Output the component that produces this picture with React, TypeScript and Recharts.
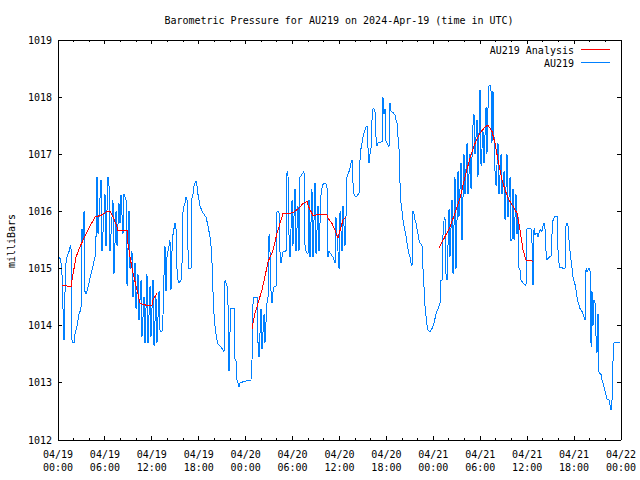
import React from 'react';
import { LineChart, Line, XAxis, YAxis } from 'recharts';

// hours since 2024-04-19 00:00 UTC
const hourTicks = [0, 2, 4, 6, 8, 10, 12, 14, 16, 18, 20, 22, 24, 26, 28, 30, 32, 34, 36, 38, 40, 42, 44, 46, 48, 50, 52, 54, 56, 58, 60, 62, 64, 66, 68, 70, 72];
const dateLabels = ['04/19', '04/19', '04/19', '04/19', '04/20', '04/20', '04/20', '04/20', '04/21', '04/21', '04/21', '04/21', '04/22'];
const timeLabels = ['00:00', '06:00', '12:00', '18:00', '00:00', '06:00', '12:00', '18:00', '00:00', '06:00', '12:00', '18:00', '00:00'];
const pressureTicks = [1012, 1013, 1014, 1015, 1016, 1017, 1018, 1019];

// AU219 observations [hour, mbar]
const obsApr19: [number, number][] = [
  [0, 1015.2], [0.26, 1015.18], [0.38, 1015.1], [0.51, 1014.9], [0.64, 1014.3], [0.77, 1013.75], [0.9, 1014.6], [1.02, 1015.1], [1.15, 1015.2], [1.28, 1015.25], [1.41, 1015.3], [1.53, 1015.38], [1.66, 1015.4], [1.79, 1013.75], [1.92, 1013.7], [2.05, 1013.7], [2.17, 1013.85], [2.43, 1014.0], [2.69, 1014.2], [2.94, 1014.3], [3.07, 1015.7], [3.2, 1015.5], [3.33, 1016.0], [3.45, 1014.6], [3.58, 1014.55], [3.71, 1014.6], [3.96, 1014.75], [4.22, 1014.9], [4.48, 1015.05],
  [4.73, 1015.2], [4.86, 1015.56], [4.99, 1016.61], [5.12, 1015.6], [5.5, 1016.55], [5.63, 1015.3], [6.01, 1016.3], [6.14, 1015.4], [6.39, 1016.61], [6.52, 1016.5], [6.65, 1015.3], [7.03, 1016.2], [7.16, 1014.9], [7.42, 1016.0], [7.55, 1015.4], [7.8, 1016.14], [7.93, 1015.8], [8.06, 1016.29], [8.31, 1015.6], [8.44, 1016.3], [8.7, 1016.2], [8.83, 1014.7], [9.08, 1016.0], [9.21, 1015.0], [9.46, 1015.3], [9.59, 1014.5], [9.85, 1015.1], [9.98, 1014.3], [10.23, 1014.9], [10.36, 1014.1], [10.62, 1014.8], [10.74, 1013.8], [11.0, 1014.5], [11.13, 1013.7], [11.38, 1014.9], [11.51, 1013.7], [11.77, 1014.7], [11.89, 1013.8], [12.15, 1014.8], [12.28, 1013.65], [12.53, 1014.5], [12.66, 1013.7], [12.92, 1014.6], [13.05, 1013.9],
  [13.3, 1013.9], [13.43, 1014.2], [13.56, 1014.9], [13.68, 1015.4], [13.81, 1014.6], [13.94, 1015.2], [14.07, 1015.3], [14.32, 1015.5], [14.45, 1014.63], [14.58, 1015.3], [14.71, 1015.6], [14.96, 1015.8], [15.09, 1015.7], [15.22, 1015.0], [15.35, 1014.8], [15.47, 1014.75], [15.73, 1014.8], [15.86, 1015.1], [15.99, 1016.0], [16.11, 1016.1], [16.24, 1016.15], [16.37, 1016.25], [16.5, 1016.2], [16.63, 1015.3], [16.75, 1015.0], [17.01, 1015.0], [17.14, 1016.25], [17.27, 1016.3], [17.39, 1016.45], [17.52, 1016.5], [17.65, 1016.53], [17.78, 1016.45], [17.9, 1016.3], [18.03, 1016.2], [18.16, 1016.1], [18.42, 1016.0], [18.67, 1015.95], [18.93, 1015.9], [19.18, 1015.75], [19.44, 1015.55], [19.57, 1015.4], [19.7, 1015.1], [19.82, 1014.6], [19.95, 1014.2], [20.08, 1014.0], [20.21, 1013.85], [20.33, 1013.75], [20.46, 1013.68], [20.72, 1013.65], [20.97, 1013.6], [21.23, 1013.55], [21.36, 1014.8], [21.49, 1014.75], [21.61, 1014.7], [21.74, 1014.4], [21.87, 1013.2], [22.0, 1013.9], [22.12, 1014.3], [22.51, 1014.3], [22.64, 1013.4], [22.76, 1013.4], [22.89, 1013.05], [23.02, 1013.0], [23.15, 1012.93], [23.28, 1013.0], [23.92, 1013.03],
];
const obsApr20: [number, number][] = [
  [24.68, 1013.05], [24.81, 1013.4], [24.94, 1014.4], [25.07, 1014.5], [25.45, 1014.5], [25.58, 1013.7], [25.71, 1013.45], [25.96, 1014.3], [26.09, 1013.6], [26.35, 1014.2], [26.47, 1013.7], [26.73, 1014.4], [26.86, 1014.5], [26.99, 1015.6], [27.11, 1015.3], [27.24, 1014.6], [27.37, 1014.39], [27.5, 1014.6], [27.63, 1014.68], [27.88, 1014.68], [28.01, 1016.0], [28.26, 1016.0], [28.39, 1015.3], [28.52, 1015.1], [28.65, 1015.2], [28.78, 1015.3], [29.16, 1015.3], [29.29, 1016.7], [29.41, 1016.65], [29.54, 1015.6], [29.67, 1015.2], [29.93, 1016.2], [30.05, 1015.4], [30.31, 1016.4], [30.44, 1015.3], [30.69, 1016.1], [30.82, 1015.3], [30.95, 1016.6], [31.21, 1016.65], [31.46, 1016.7], [31.59, 1015.4], [31.72, 1015.3], [31.97, 1015.25], [32.1, 1016.2], [32.23, 1015.2], [32.48, 1016.4], [32.61, 1015.2], [32.87, 1016.5], [33.0, 1015.25], [33.25, 1016.1], [33.38, 1015.3], [33.64, 1016.3], [33.76, 1016.4], [33.89, 1016.47], [34.15, 1016.5], [34.4, 1016.45], [34.53, 1015.2], [34.66, 1015.3], [34.91, 1015.25], [35.17, 1015.2], [35.43, 1015.1], [35.55, 1015.9], [35.68, 1015.6], [35.94, 1015.0], [36.07, 1016.0], [36.32, 1015.3], [36.45, 1016.1], [36.7, 1015.4], [36.83, 1015.9],
  [36.96, 1016.6], [37.09, 1016.65], [37.22, 1016.7], [37.34, 1016.75], [37.47, 1016.85], [37.6, 1016.9], [37.73, 1016.5], [37.86, 1016.3], [38.11, 1016.25], [38.37, 1016.3], [38.49, 1016.3], [38.62, 1016.9], [38.75, 1017.1], [38.88, 1017.2], [39.01, 1017.3], [39.13, 1017.37], [39.26, 1017.43], [39.39, 1017.48], [39.52, 1017.5], [39.65, 1017.1], [39.77, 1016.85], [39.9, 1017.0], [40.03, 1017.1], [40.16, 1017.6], [40.29, 1017.8], [40.41, 1017.8], [40.54, 1017.75], [40.67, 1017.3], [40.8, 1017.15], [40.92, 1017.2], [41.44, 1017.22], [41.56, 1018.0], [41.69, 1017.7], [41.82, 1017.8], [41.95, 1017.22], [42.08, 1017.2], [42.33, 1017.13], [42.46, 1017.9], [42.59, 1017.75], [42.84, 1017.73], [43.1, 1017.69], [43.23, 1017.6], [43.35, 1017.55], [43.48, 1017.3], [43.61, 1017.1], [43.74, 1016.5], [43.87, 1016.14], [44.0, 1016.0], [44.12, 1015.85], [44.25, 1015.75], [44.38, 1015.65], [44.51, 1015.56], [44.63, 1015.45], [44.76, 1015.35], [44.89, 1015.25], [45.02, 1015.2], [45.15, 1015.1], [45.27, 1015.05], [45.4, 1016.0], [45.53, 1015.95], [45.66, 1015.85], [45.79, 1015.8], [45.91, 1015.7], [46.04, 1015.6], [46.17, 1015.5], [46.3, 1015.45], [46.55, 1015.4], [46.68, 1015.0], [46.94, 1014.33], [47.19, 1014.01], [47.32, 1013.92], [47.58, 1013.9], [47.83, 1013.95],
];
const obsApr21: [number, number][] = [
  [48.09, 1014.05], [48.34, 1014.2], [48.6, 1014.3], [48.86, 1014.4], [48.98, 1014.8], [49.11, 1014.8], [49.24, 1015.6], [49.37, 1015.85], [49.49, 1015.9], [49.62, 1014.9], [49.75, 1014.8], [50.01, 1016.05], [50.13, 1015.2], [50.39, 1016.2], [50.52, 1014.9], [50.77, 1016.6], [50.9, 1015.0], [51.16, 1016.7], [51.28, 1015.9], [51.54, 1016.85], [51.67, 1015.5], [51.92, 1017.0], [52.05, 1016.3], [52.31, 1017.2], [52.43, 1016.3], [52.69, 1017.0], [52.82, 1016.4], [53.07, 1017.5], [53.2, 1017.7], [53.33, 1017.0], [53.59, 1017.6], [53.71, 1016.6], [53.97, 1018.12], [54.1, 1016.8], [54.35, 1017.4], [54.48, 1016.85], [54.74, 1017.83], [54.86, 1017.0], [54.99, 1017.8], [55.12, 1018.2], [55.25, 1018.21], [55.38, 1018.1], [55.5, 1017.2], [55.63, 1018.1], [55.76, 1017.3], [55.89, 1016.7], [56.02, 1016.45], [56.27, 1017.2], [56.4, 1016.3], [56.66, 1017.0], [56.78, 1016.3], [57.04, 1016.7], [57.17, 1015.85], [57.42, 1017.0], [57.55, 1015.9], [57.81, 1016.6], [57.93, 1015.5], [58.06, 1015.5], [58.19, 1016.4], [58.32, 1015.5], [58.57, 1016.3], [58.7, 1015.6], [58.83, 1015.9], [58.96, 1015.0], [59.09, 1014.97], [59.21, 1014.8], [59.47, 1014.75], [59.73, 1014.71], [59.85, 1014.7], [59.98, 1015.7], [60.24, 1015.7], [60.49, 1015.7], [60.62, 1015.45], [60.75, 1014.71], [60.88, 1015.7], [61.0, 1015.6],
  [61.26, 1015.62], [61.39, 1015.55], [61.64, 1015.68], [61.9, 1015.65], [62.03, 1015.75], [62.16, 1015.79], [62.28, 1015.7], [62.41, 1015.3], [62.54, 1015.15], [62.79, 1015.2], [63.05, 1015.21], [63.18, 1015.62], [63.31, 1015.85], [63.56, 1015.91], [63.82, 1015.91], [63.95, 1015.3], [64.07, 1015.1], [64.2, 1015.02], [64.84, 1015.0], [64.97, 1015.75], [65.1, 1015.8], [65.22, 1015.75], [65.35, 1015.5], [65.48, 1015.3], [65.61, 1015.15], [65.74, 1015.0], [65.86, 1014.86], [65.99, 1014.78], [66.12, 1014.72], [66.25, 1014.63], [66.38, 1014.5], [66.5, 1014.42], [66.63, 1014.36], [66.76, 1014.3], [67.01, 1014.25], [67.27, 1014.15], [67.4, 1014.1], [67.53, 1015.0], [67.65, 1014.95], [67.91, 1015.0], [68.04, 1014.95], [68.17, 1013.63], [68.29, 1014.6], [68.42, 1014.0], [68.55, 1014.45], [68.68, 1014.4], [68.81, 1013.8], [68.93, 1013.52], [69.06, 1014.2], [69.19, 1013.17], [69.45, 1013.15], [69.57, 1013.05], [69.7, 1013.0], [69.96, 1012.85], [70.21, 1012.72], [70.47, 1012.7], [70.72, 1012.52], [70.85, 1012.7], [70.98, 1013.4], [71.11, 1013.7], [71.88, 1013.7],
];

// AU219 Analysis segments [hour, mbar]
const analysisApr19: [number, number][] = [
  [0.51, 1014.71], [1.02, 1014.7], [1.66, 1014.68], [1.92, 1014.9], [2.3, 1015.2], [2.81, 1015.38], [3.45, 1015.57], [3.84, 1015.68], [4.73, 1015.9], [5.63, 1015.94], [6.27, 1016.0], [6.65, 1016.0], [7.03, 1015.91], [7.55, 1015.73], [7.67, 1015.67], [8.83, 1015.67], [8.95, 1015.44], [9.21, 1015.2], [9.59, 1014.92], [10.1, 1014.63], [10.49, 1014.39], [11.25, 1014.36], [12.02, 1014.36], [12.15, 1014.45], [12.66, 1014.57],
];
const analysisApr20: [number, number][] = [
  [24.81, 1013.95], [25.19, 1014.22], [25.58, 1014.39], [26.09, 1014.63], [26.47, 1014.86], [26.86, 1015.12], [27.5, 1015.32], [28.01, 1015.62], [28.39, 1015.79], [28.78, 1015.97], [29.67, 1015.97], [30.05, 1015.98], [30.57, 1016.03], [30.95, 1016.08], [31.33, 1016.14], [31.85, 1016.17], [31.97, 1016.11], [32.23, 1016.03], [32.61, 1015.93], [33.12, 1015.94], [34.4, 1015.94], [34.53, 1015.88], [35.04, 1015.79], [35.43, 1015.67], [35.81, 1015.53], [36.07, 1015.67], [36.45, 1015.85], [36.83, 1015.9],
];
const analysisApr21: [number, number][] = [
  [48.73, 1015.36], [49.49, 1015.56], [50.13, 1015.73], [50.77, 1015.97], [51.41, 1016.23], [52.05, 1016.61], [52.69, 1016.93], [53.33, 1017.19], [53.97, 1017.37], [54.61, 1017.48], [54.99, 1017.51], [55.5, 1017.4], [55.89, 1017.19], [56.27, 1016.9], [56.78, 1016.55], [57.17, 1016.38], [57.55, 1016.23], [58.19, 1016.09], [58.7, 1015.97], [59.09, 1015.67], [59.47, 1015.33], [59.85, 1015.15], [60.75, 1015.13],
];

const toRows = (arr: [number, number][]) => arr.map(([t, v]) => ({ t, v }));
const observed = toRows([...obsApr19, ...obsApr20, ...obsApr21]);
const analysisSegments = [analysisApr19, analysisApr20, analysisApr21].map(toRows);

const FONT = '"DejaVu Sans Mono", "Liberation Mono", monospace';
const BLUE = '#0080ff';
const RED = '#ff0000';

const BottomTick = (props: any) => {
  const { x, y, payload } = props;
  const v = payload.value as number;
  const major = v % 6 === 0;
  const idx = v / 6;
  return (
    <g>
      <line x1={x} x2={x} y1={y} y2={y - (major ? 4 : 2)} stroke="#000" />
      {major && (
        <text x={x} y={y + 18} textAnchor="middle" fontFamily={FONT} fontSize={10} fill="#000">
          {dateLabels[idx]}
        </text>
      )}
      {major && (
        <text x={x} y={y + 30.5} textAnchor="middle" fontFamily={FONT} fontSize={10} fill="#000">
          {timeLabels[idx]}
        </text>
      )}
    </g>
  );
};

const TopTick = (props: any) => {
  const { x, y, payload } = props;
  const major = (payload.value as number) % 6 === 0;
  return <line x1={x} x2={x} y1={y} y2={y + (major ? 4 : 2)} stroke="#000" />;
};

const LeftTick = (props: any) => {
  const { x, y, payload } = props;
  return (
    <g>
      <line x1={x} x2={x + 4} y1={y} y2={y} stroke="#000" />
      <text x={x - 6} y={y + 3.6} textAnchor="end" fontFamily={FONT} fontSize={10} fill="#000">
        {payload.value}
      </text>
    </g>
  );
};

const RightTick = (props: any) => {
  const { x, y } = props;
  return <line x1={x} x2={x - 4} y1={y} y2={y} stroke="#000" />;
};

export default function App() {
  return (
    <div style={{ position: 'absolute', left: 0, top: 0, width: 640, height: 480, background: '#fff', shapeRendering: 'crispEdges' as any }}>
      <LineChart width={640} height={480} margin={{ top: 39, right: 18, bottom: 0, left: 0 }}>
        <XAxis
          xAxisId="b"
          type="number"
          dataKey="t"
          domain={[0, 72]}
          ticks={hourTicks}
          interval={0}
          allowDataOverflow
          height={40}
          tickSize={0}
          tickMargin={0}
          tickLine={false}
          axisLine={{ stroke: '#000' }}
          tick={(p: any) => <BottomTick {...p} />}
        />
        <XAxis
          xAxisId="top"
          orientation="top"
          type="number"
          dataKey="t"
          domain={[0, 72]}
          ticks={hourTicks}
          interval={0}
          allowDataOverflow
          height={1}
          tickSize={0}
          tickMargin={0}
          tickLine={false}
          axisLine={{ stroke: '#000' }}
          tick={(p: any) => <TopTick {...p} />}
        />
        <YAxis
          yAxisId="l"
          type="number"
          domain={[1012, 1019]}
          ticks={pressureTicks}
          interval={0}
          allowDataOverflow
          width={58}
          tickSize={0}
          tickMargin={0}
          tickLine={false}
          axisLine={{ stroke: '#000' }}
          tick={(p: any) => <LeftTick {...p} />}
        />
        <YAxis
          yAxisId="r"
          orientation="right"
          type="number"
          domain={[1012, 1019]}
          ticks={pressureTicks}
          interval={0}
          allowDataOverflow
          width={1}
          tickSize={0}
          tickMargin={0}
          tickLine={false}
          axisLine={{ stroke: '#000' }}
          tick={(p: any) => <RightTick {...p} />}
        />
        <Line
          xAxisId="b"
          yAxisId="l"
          data={observed}
          dataKey="v"
          type="linear"
          stroke={BLUE}
          strokeWidth={1}
          dot={false}
          activeDot={false}
          isAnimationActive={false}
          name="AU219"
        />
        {analysisSegments.map((seg, i) => (
          <Line
            key={i}
            xAxisId="b"
            yAxisId="l"
            data={seg}
            dataKey="v"
            type="linear"
            stroke={RED}
            strokeWidth={1}
            dot={false}
            activeDot={false}
            isAnimationActive={false}
            name="AU219 Analysis"
          />
        ))}
      </LineChart>
      <svg width={640} height={480} style={{ position: 'absolute', left: 0, top: 0, pointerEvents: 'none' }}>
        <text x={339} y={24} textAnchor="middle" fontFamily={FONT} fontSize={10} fill="#000">
          Barometric Pressure for AU219 on 2024-Apr-19 (time in UTC)
        </text>
        <text x={15} y={241} textAnchor="middle" fontFamily={FONT} fontSize={10} fill="#000" transform="rotate(-90 15 241)">
          milliBars
        </text>
        <text x={574} y={54} textAnchor="end" fontFamily={FONT} fontSize={10} fill="#000">AU219 Analysis</text>
        <line x1={581} x2={610} y1={49.5} y2={49.5} stroke={RED} />
        <text x={574} y={67} textAnchor="end" fontFamily={FONT} fontSize={10} fill="#000">AU219</text>
        <line x1={581} x2={610} y1={62.5} y2={62.5} stroke={BLUE} />
      </svg>
    </div>
  );
}
